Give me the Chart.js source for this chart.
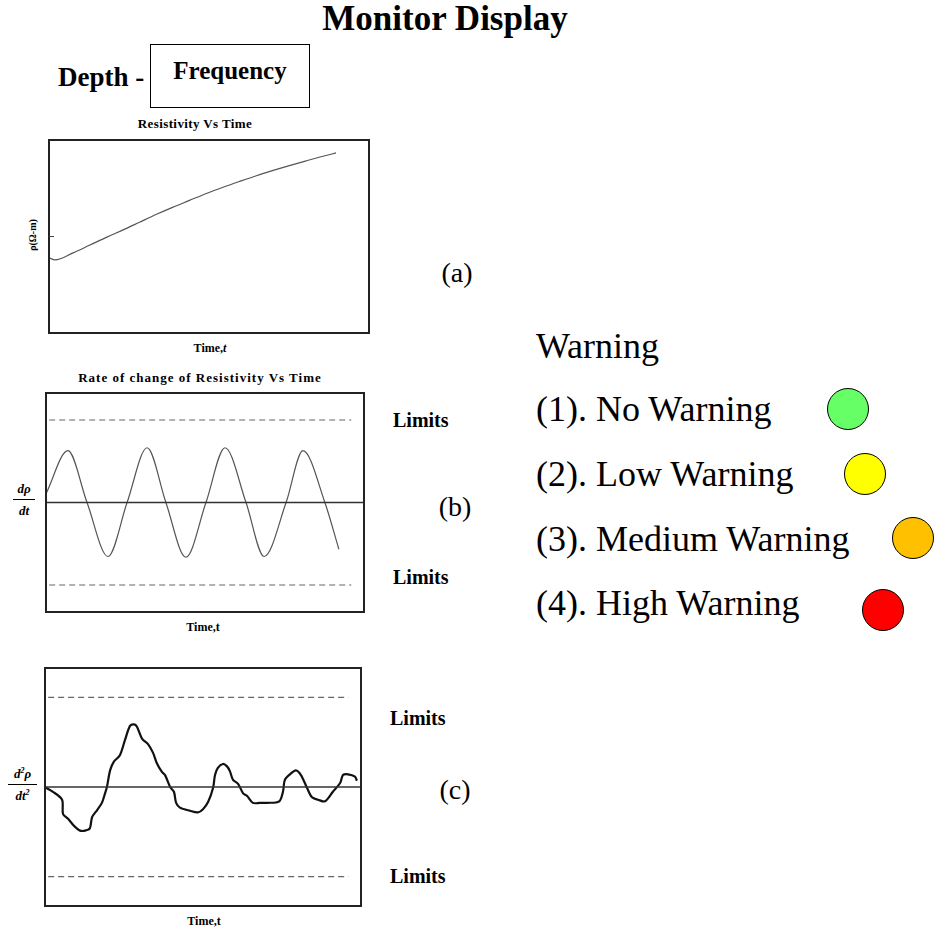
<!DOCTYPE html>
<html>
<head>
<meta charset="utf-8">
<script src="https://cdn.jsdelivr.net/npm/chart.js@4.4.0/dist/chart.umd.min.js"></script>
<style>
  body { margin: 0; background: #fff; }
  #page { position: relative; width: 935px; height: 930px; overflow: hidden; font-family: "Liberation Serif", "Times New Roman", serif; color: #000; }
  .lbl { position: absolute; white-space: nowrap; line-height: 1; transform: translate(-50%, -50%); }
  .left { transform: translate(0, -50%); }
  .b { font-weight: bold; }
  canvas { position: absolute; }
  #freqBox { position: absolute; left: 150px; top: 44px; width: 158px; height: 62px; border: 1px solid #000; }
  .frac { position: absolute; font-weight: bold; font-style: italic; font-size: 13px; line-height: 1; text-align: center; }
  .frac .bar { border-top: 1.3px solid #000; margin: 4px 0; }
  .dot { position: absolute; width: 40px; height: 40px; border-radius: 50%; border: 1.5px solid #000; transform: translate(-50%, -50%); }
</style>
</head>
<body>
<div id="page">
  <div class="lbl b" style="left:445px; top:18px; font-size:35px;">Monitor Display</div>
  <div class="lbl b left" style="left:58px; top:77px; font-size:27px;">Depth -</div>
  <div id="freqBox"></div>
  <div class="lbl b" style="left:230px; top:70px; font-size:25px;">Frequency</div>

  <div class="lbl b" style="left:195px; top:123px; font-size:13px; letter-spacing:0.4px;">Resistivity Vs Time</div>
  <div class="lbl b" style="left:33px; top:235px; font-size:10px; transform:translate(-50%,-50%) rotate(-90deg);">ρ(Ω-m)</div>
  <canvas id="resChart" width="326" height="199" style="left:46px; top:137px;"></canvas>
  <div class="lbl b" style="left:210px; top:348px; font-size:12px;">Time,<i>t</i></div>
  <div class="lbl" style="left:457px; top:273px; font-size:28px;">(a)</div>

  <div class="lbl b" style="left:200px; top:377px; font-size:13px; letter-spacing:1px;">Rate of change of Resistivity Vs Time</div>
  <div class="frac" style="left:13px; top:482px; width:22px;">dρ<div class="bar"></div>dt</div>
  <canvas id="rateChart" width="324" height="225" style="left:43px; top:390px;"></canvas>
  <div class="lbl b" style="left:203px; top:627px; font-size:12px;">Time,t</div>
  <div class="lbl b left" style="left:393px; top:420px; font-size:20px;">Limits</div>
  <div class="lbl b left" style="left:393px; top:577px; font-size:20px;">Limits</div>
  <div class="lbl" style="left:455px; top:507px; font-size:28px;">(b)</div>

  <div class="frac" style="left:8px; top:767px; width:29px;">d<sup style="font-size:8px;">2</sup>ρ<div class="bar"></div>dt<sup style="font-size:8px;">2</sup></div>
  <canvas id="accelChart" width="322" height="244" style="left:42px; top:665px;"></canvas>
  <div class="lbl b" style="left:204px; top:921px; font-size:12px;">Time,t</div>
  <div class="lbl b left" style="left:390px; top:718px; font-size:20px;">Limits</div>
  <div class="lbl b left" style="left:390px; top:876px; font-size:20px;">Limits</div>
  <div class="lbl" style="left:455px; top:790px; font-size:28px;">(c)</div>

  <div id="warnings"></div>
</div>

<script>
// Resistivity vs time (a)
const rhoTime = [0, 0.19, 0.75, 1.28, 1.81, 2.37, 2.83, 3.36, 3.86, 4.39, 4.92, 5.42, 5.95, 6.48, 6.98, 7.51, 8.04, 8.50, 8.97];
const rhoValues = [39.0, 37.9, 41.5, 45.6, 49.7, 53.8, 57.4, 61.5, 65.1, 68.7, 72.3, 75.4, 78.5, 81.5, 84.1, 86.7, 89.2, 91.3, 93.3];
const rhoTickValues = [50];

// Rate of change (b)
const rateTime = [0, 0.69, 1.29, 1.95, 2.55, 3.18, 3.77, 4.40, 5.03, 5.63, 6.29, 6.86, 7.55, 8.08, 8.77, 9.21];
const rateValues = [0.12, 0.71, 0, -0.74, 0, 0.75, 0, -0.75, 0, 0.75, 0, -0.74, 0, 0.71, 0, -0.64];

// Second derivative (c)
const accelTime = [0.03, 0.25, 0.54, 0.57, 0.73, 0.92, 1.11, 1.27, 1.42, 1.49, 1.65, 1.80, 1.90, 1.96, 2.06, 2.18, 2.37, 2.53, 2.69, 2.82, 2.91, 3.07, 3.26, 3.42, 3.54, 3.70, 3.80, 3.96, 4.08, 4.15, 4.27, 4.59, 4.84, 5.00, 5.16, 5.32, 5.38, 5.47, 5.63, 5.76, 5.85, 5.95, 6.11, 6.27, 6.39, 6.58, 6.80, 7.03, 7.41, 7.53, 7.59, 7.75, 7.94, 8.10, 8.29, 8.45, 8.64, 8.86, 9.11, 9.34, 9.43, 9.59, 9.81, 9.87];
const accelValues = [-0.01, -0.06, -0.16, -0.34, -0.40, -0.49, -0.55, -0.55, -0.52, -0.38, -0.29, -0.20, -0.08, 0, 0.21, 0.32, 0.40, 0.59, 0.77, 0.79, 0.76, 0.61, 0.54, 0.43, 0.30, 0.19, 0.15, 0, -0.06, -0.20, -0.26, -0.30, -0.32, -0.28, -0.19, -0.01, 0.15, 0.24, 0.29, 0.26, 0.20, 0.09, 0.04, -0.08, -0.11, -0.20, -0.20, -0.20, -0.18, -0.06, 0.09, 0.16, 0.21, 0.15, -0.01, -0.13, -0.16, -0.18, -0.06, 0.05, 0.15, 0.16, 0.13, 0.08];

// Limits and baseline shared by (b) and (c)
const limitValues = [1.13, -1.13];
const limitSpan = [0.1, 9.6];
const baselineSpan = [0, 10];

// Warning legend
const warningTitle = "Warning";
const warningLabels = ["(1). No Warning", "(2). Low Warning", "(3). Medium Warning", "(4). High Warning"];
const warningColors = ["#66ff66", "#ffff00", "#ffc000", "#ff0000"];

function toPoints(xs, ys) {
  return xs.map((x, i) => ({ x: x, y: ys[i] }));
}

// draws the box and optional inward ticks on the left axis
const framePlugin = {
  id: "frame",
  afterDraw(chart, args, opts) {
    const ctx = chart.ctx;
    const a = chart.chartArea;
    ctx.save();
    ctx.strokeStyle = "#222";
    ctx.lineWidth = 2;
    ctx.strokeRect(a.left, a.top, a.right - a.left, a.bottom - a.top);
    (opts.ticks || []).forEach(v => {
      const y = chart.scales.y.getPixelForValue(v);
      ctx.lineWidth = 1;
      ctx.strokeStyle = "#444";
      ctx.beginPath();
      ctx.moveTo(a.left, y);
      ctx.lineTo(a.left + 5, y);
      ctx.stroke();
    });
    ctx.restore();
  },
};

function baseOptions(ymin, ymax, ticks) {
  return {
    responsive: false,
    animation: false,
    layout: { padding: 3 },
    plugins: {
      legend: { display: false },
      tooltip: { enabled: false },
      frame: { ticks: ticks || [] },
    },
    elements: { point: { radius: 0 } },
    scales: {
      x: { type: "linear", min: 0, max: 10, display: false },
      y: { min: ymin, max: ymax, display: false },
    },
  };
}

function limitDatasets() {
  const sets = limitValues.map(v => ({
    data: toPoints(limitSpan, [v, v]),
    borderColor: "#666",
    borderWidth: 1.2,
    borderDash: [6, 4],
  }));
  sets.push({
    data: toPoints(baselineSpan, [0, 0]),
    borderColor: "#333",
    borderWidth: 1.6,
  });
  return sets;
}

new Chart(document.getElementById("resChart"), {
  type: "line",
  data: {
    datasets: [
      {
        data: toPoints(rhoTime, rhoValues),
        borderColor: "#555",
        borderWidth: 1.2,
        cubicInterpolationMode: "monotone",
      },
    ],
  },
  options: baseOptions(0, 100, rhoTickValues),
  plugins: [framePlugin],
});

new Chart(document.getElementById("rateChart"), {
  type: "line",
  data: {
    datasets: limitDatasets().concat([
      {
        data: toPoints(rateTime, rateValues),
        borderColor: "#555",
        borderWidth: 1.2,
        cubicInterpolationMode: "monotone",
      },
    ]),
  },
  options: baseOptions(-1.5, 1.5),
  plugins: [framePlugin],
});

new Chart(document.getElementById("accelChart"), {
  type: "line",
  data: {
    datasets: limitDatasets().concat([
      {
        data: toPoints(accelTime, accelValues),
        borderColor: "#111",
        borderWidth: 2.2,
        tension: 0.3,
      },
    ]),
  },
  options: baseOptions(-1.5, 1.5),
  plugins: [framePlugin],
});

// legend on the right
const warnRows = [346, 409, 474, 539, 603];
const dotCenters = [[848, 409], [865, 474], [913, 538], [883, 610]];
const holder = document.getElementById("warnings");
let html = '<div class="lbl left" style="left:536px; top:' + warnRows[0] + 'px; font-size:36px;">' + warningTitle + '</div>';
warningLabels.forEach((t, i) => {
  html += '<div class="lbl left" style="left:536px; top:' + warnRows[i + 1] + 'px; font-size:36px;">' + t + '</div>';
  html += '<div class="dot" style="left:' + dotCenters[i][0] + 'px; top:' + dotCenters[i][1] + 'px; background:' + warningColors[i] + ';"></div>';
});
holder.innerHTML = html;
</script>
</body>
</html>
